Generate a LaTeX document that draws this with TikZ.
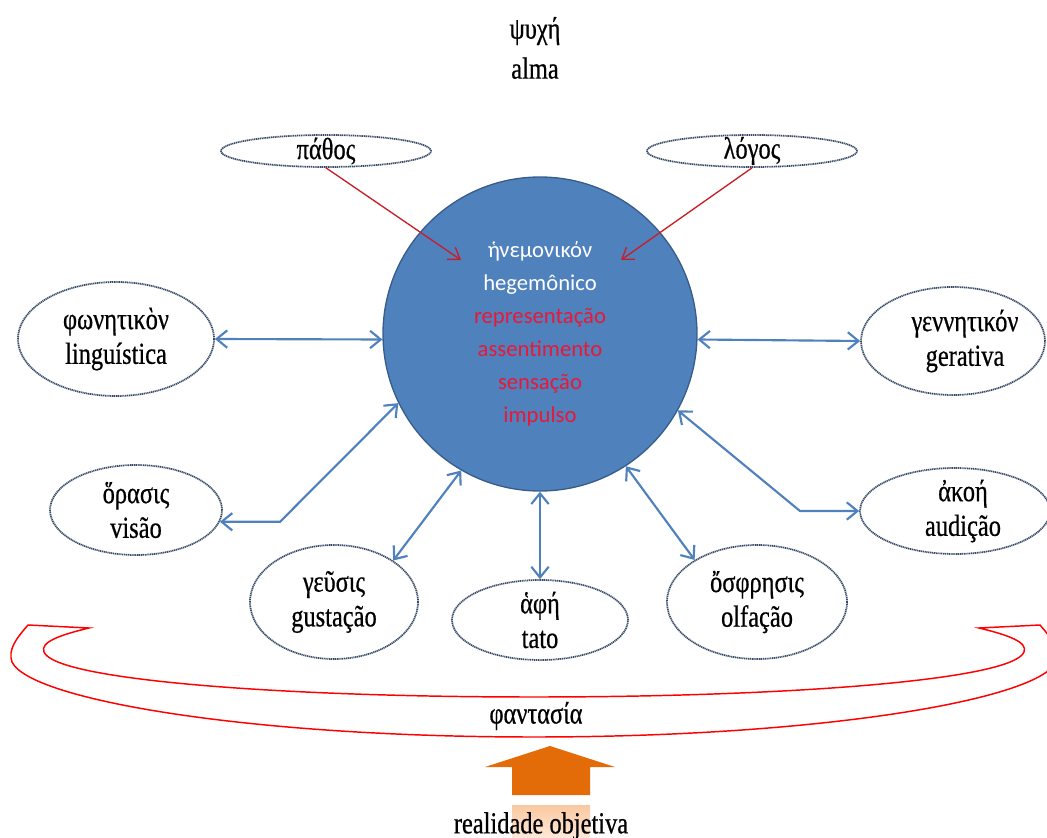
\documentclass[tikz,border=0pt]{standalone}
\usepackage{fontspec}
\usetikzlibrary{shapes.geometric,arrows.meta}
\newfontfamily\grk{Liberation Serif}[FakeStretch=0.8,FakeBold=0.6]
\newfontfamily\calfont{Carlito}
\definecolor{hubfill}{RGB}{79,129,189}
\definecolor{hubline}{RGB}{56,93,138}
\definecolor{elc}{RGB}{55,75,105}
\definecolor{blu}{RGB}{79,129,189}
\definecolor{darkred}{RGB}{200,30,40}
\definecolor{pinkred}{RGB}{232,24,56}
\definecolor{orng}{RGB}{227,108,9}
\definecolor{peach}{RGB}{250,200,160}
\tikzset{
  el/.style 2 args={ellipse, draw=elc, line width=1.3pt, dash pattern=on 0.9pt off 0.5pt,
     minimum width=#1*1.5pt, minimum height=#2*1.5pt, inner sep=0pt},
  lbl/.style={font=\grk\fontsize{22.9}{26}\selectfont, align=center, inner sep=0pt},
  blink/.style={draw=blu, line width=1.6pt, {Straight Barb[length=8pt,width=13pt]}-{Straight Barb[length=8pt,width=13pt]}},
  rlink/.style={draw=darkred, line width=1pt, -{Straight Barb[length=8pt,width=11pt]}},
  txt/.style={font=\grk\fontsize{22.9}{26}\selectfont, align=center, inner sep=0pt}
}
\begin{document}
\begin{tikzpicture}[x=0.75pt,y=-0.75pt]
\useasboundingbox (0,0) rectangle (1047,838);
% title
\node[txt, font=\grk\fontsize{22.9}{30}\selectfont] (psy) at (535,48) {ψυχή\\alma};
% hub
\node[circle, fill=hubfill, draw=hubline, line width=1pt, minimum size=314*0.75pt,
  inner sep=0pt, align=center, font=\calfont\fontsize{17}{24.75}\selectfont] (hub) at (540,334)
  {\textcolor{white}{ἡνεμονικόν}\\\textcolor{white}{hegemônico}\\\textcolor{pinkred}{representação}\\
   \textcolor{pinkred}{assentimento}\\\textcolor{pinkred}{sensação}\\\textcolor{pinkred}{impulso}};
% ellipses
\node[el={105}{16}, label={[lbl]center:πάθος}] (pathos) at (326,151) {};
\node[el={105}{16}, label={[lbl]center:λόγος}] (logos) at (752,151) {};
\node[el={98}{57}, label={[lbl]center:φωνητικὸν\\linguística}] (ling) at (116,339) {};
\node[el={92}{54}, label={[lbl,xshift=9pt]center:γεννητικόν\\gerativa}] (gen) at (953,341) {};
\node[el={86}{45}, label={[lbl]center:ὅρασις\\visão}] (vis) at (136,510) {};
\node[el={84}{57}, label={[lbl]center:γεῦσις\\gustação}] (gus) at (334,602) {};
\node[el={88}{40}, label={[lbl]center:ἁφή\\tato}] (tato) at (540,620) {};
\node[el={90}{57}, label={[lbl]center:ὄσφρησις\\olfação}] (olf) at (757,602) {};
\node[el={95}{43}, label={[lbl,xshift=6pt]center:ἀκοή\\audição}] (aud) at (955,511) {};
% red arrows
\coordinate (pa) at (461,260);
\coordinate (la) at (621,260);
\draw[rlink] (pathos.south) -- (pa);
\draw[rlink] (logos.south) -- (la);
% blue links
\coordinate (vc) at (280,520);
\coordinate (ac) at (800,511);
\draw[blink] (ling.east) -- (hub.182);
\draw[blink] (hub.358) -- (gen.west);
\draw[blink] (vis.352) -- (vis.352 -| vc) -- (hub.206);
\draw[blink] (hub.240) -- (gus.35);
\draw[blink] (hub.south) -- (tato.north);
\draw[blink] (hub.303) -- (olf.146);
\draw[blink] (hub.331) -- (ac) -- (aud.west);
% fantasia curved arrow
\draw[red, line width=1.1pt, line join=miter]
  (28,625) -- (89,628) .. controls (60,635) and (40,642) .. (44,652)
  .. controls (55,680) and (280,697) .. (534,697)
  .. controls (788,697) and (1013,680) .. (1024,652)
  .. controls (1028,642) and (1008,635) .. (979,628)
  -- (1040,625) .. controls (1053,640) and (1060,650) .. (1056,662)
  .. controls (1038,700) and (818,737) .. (534,737)
  .. controls (250,737) and (30,700) .. (12,662)
  .. controls (8,650) and (15,640) .. cycle;
\node[txt] (fan) at (536,716) {φαντασία};
% orange arrow
\shade[top color=peach, bottom color=peach!40] (512,805) rectangle (590,838);
\fill[orng] (550,746) -- (615,767) -- (590,767) -- (590,795) -- (512,795) -- (512,767) -- (485,767) -- cycle;
\node[txt] (real) at (541,826) {realidade objetiva};
\end{tikzpicture}
\end{document}
